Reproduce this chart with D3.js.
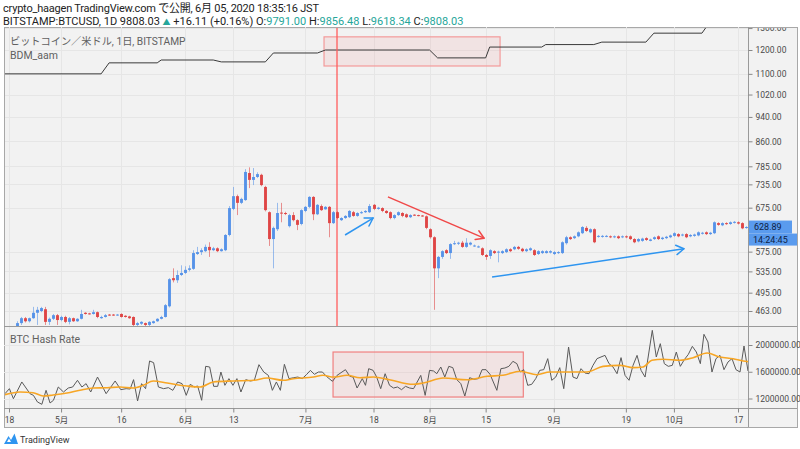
<!DOCTYPE html>
<html><head><meta charset="utf-8">
<script src="https://cdn.jsdelivr.net/npm/d3@7"></script>
<style>
body{margin:0;background:#fff;}
svg{display:block;font-family:Roboto,"Noto Sans CJK JP",sans-serif;}
</style>
</head><body><svg id="c" width="800" height="449"></svg>
<script>
// ---------------- DATA ----------------
const firstCandle = "2013-04-20";
const candleOpen  = [438,443,451,446,451,460,463,466,445,450,456,448,453,445,451,446,450,460,459,458,461,451,453,457,457,456,458,455,454,453,440,442,443,440,443,446,450,453,471,522,518,528,532,538,540,570,574,576,585,578,582,576,578,611,672,704,687,694,766,747,755,761,728,664,602,624,663,662,631,657,645,636,667,677,702,659,679,671,677,638,664,645,650,652,664,655,662,664,664,682,672,674,667,664,650,657,662,659,652,658,657,656,654,624,606,541,564,578,572,591,592,594,585,590,586,584,582,568,566,576,573,572,574,580,580,585,581,576,578,578,570,572,572,573,570,572,572,593,606,604,608,615,627,617,624,607,607,608,608,606,608,606,608,608,602,597,598,604,598,602,608,602,604,606,609,613,610,613,608,609,610,614,617,613,615,638,633,638,636,639,640,638,627];
const candleHigh  = [446,453,453,452,470,470,470,470,452,458,458,455,455,453,452,451,465,461,460,465,462,455,458,458,458,458,459,456,455,454,445,446,444,446,447,451,455,475,522,541,537,547,545,547,578,585,582,590,595,585,584,582,613,679,728,708,700,777,782,780,768,764,731,666,630,687,687,665,660,664,647,671,679,704,704,684,683,679,679,667,666,652,657,669,667,664,667,669,684,684,677,676,669,666,659,666,664,661,659,659,658,657,656,626,608,566,578,580,593,598,596,598,604,596,590,588,584,570,580,578,577,578,582,582,587,587,583,582,584,580,578,578,578,578,576,576,597,609,608,610,619,631,631,626,626,611,611,611,610,610,610,610,610,610,604,604,605,606,603,608,610,607,609,612,617,615,614,615,613,614,619,618,619,618,642,640,640,640,642,643,642,640,631];
const candleLow   = [436,440,444,444,450,440,461,440,440,448,440,446,443,441,445,445,449,457,457,457,451,450,452,455,455,455,452,452,450,438,437,440,438,438,442,445,449,452,469,514,513,526,530,535,538,568,568,574,564,576,574,575,576,608,669,657,684,692,725,733,752,730,666,587,541,620,640,657,628,642,622,633,664,674,645,657,667,670,606,636,648,643,648,650,653,653,660,662,662,669,670,664,660,647,647,655,652,650,650,655,654,653,624,603,465,522,560,570,560,589,589,583,583,588,585,583,566,558,560,570,553,570,572,574,578,579,574,574,576,566,568,570,571,571,568,570,570,590,600,602,606,613,618,615,593,605,605,606,604,604,602,604,604,600,593,595,596,598,597,600,600,600,602,604,607,606,608,604,606,607,608,612,611,611,613,632,631,634,634,637,635,624,625];
const candleClose = [443,451,446,451,460,465,468,445,450,456,448,453,445,451,446,450,458,458,458,461,453,453,456,456,456,457,453,453,451,440,443,445,440,445,446,450,453,473,520,518,528,532,538,541,572,574,578,585,578,582,576,580,611,674,704,687,697,769,747,755,763,733,669,602,627,662,661,660,657,645,634,669,677,702,659,682,669,677,638,664,650,650,655,667,655,662,664,667,679,672,675,667,662,650,657,664,655,652,657,656,655,654,627,606,541,564,576,572,591,593,594,585,594,594,588,586,568,564,578,572,575,576,580,576,585,581,576,580,582,568,576,576,576,576,574,574,595,606,602,608,617,629,620,624,595,609,609,609,606,608,604,608,606,602,595,602,603,600,601,606,602,605,607,610,615,608,612,606,611,612,617,616,613,616,640,634,638,636,640,641,637,626,629];

const lastPrice = 628.89;
const lastTime = "14:24:45";

const priceTicks = [463,495,535,575,675,735,785,860,940,1020,1100,1200,1300];

const bdmDates  = ["2013-04-17","2013-05-11","2013-05-13","2013-05-25","2013-05-26","2013-06-08","2013-06-10","2013-06-21","2013-06-23","2013-07-04","2013-07-06","2013-08-01","2013-08-03","2013-08-15","2013-08-16","2013-08-29","2013-08-30","2013-09-11","2013-09-13","2013-09-24","2013-09-26","2013-10-08","2013-10-10","2013-10-21"];
const bdmValues = [1100,1100,1145,1145,1157,1157,1149,1149,1187,1187,1200,1200,1166,1166,1213,1213,1224,1224,1235,1235,1276,1276,1330,1340];

const hashDays = [-1,0.1,1.1,3.2,5.25,6.1,7.1,8.2,9.25,10.25,11.1,12.3,13.6,14.8,15.9,17.1,18.2,19.25,20.4,22.1,24.25,26.5,27.9,29.25,30.25,31.1,32.1,33.1,34.1,35.1,36.1,37.3,38.6,39.8,40.9,42.1,43.2,44.25,45.25,46.25,47.1,48.1,49.1,50.1,51.1,52.1,52.9,53.9,54.9,55.9,56.9,57.9,59.1,60.25,61.25,62.4,63.6,64.75,65.75,66.75,67.75,68.75,69.9,71.1,72.1,73.2,74.25,75.25,76.25,77.25,78.25,79.25,80.75,81.9,84,85.1,85.9,86.9,88.2,89,89.8,90.9,91.8,92.8,93.9,95,96,97,98,99,100,101,102.8,103.9,105,106,106.8,107.8,108.8,109.8,110.8,111.8,112.8,113.8,115,116.1,117.2,118.1,119.1,120.1,121.8,122.8,123.8,124.8,125.8,126.8,127.6,128.5,129.5,130.5,131.5,132.5,133.5,134.5,135.5,136.5,137.5,138.5,139.7,140.8,141.8,142.8,143.8,144.8,145.8,146.8,147.8,148.8,149.8,150.8,151.8,152.8,153.8,154.8,155.8,156.8,157.8,158.8,160.6,161.6,162.6,163.6,164.6,165.6,166.6,167.6,168.6,169.6,170.6,171.6,172.6,173.5,174.5,175.5,176.5,177.5,178.5,179.5,180.5,181.5,182.5,183.5,184.5];
const hashValues = [1272000,1347000,1197000,1447000,1272000,1247000,1148000,1113000,1322000,1133000,1173000,1372000,1297000,1357000,1372000,1472000,1372000,1422000,1297000,1521000,1272000,1462000,1332000,1347000,1342000,1482000,1163000,1422000,1347000,1761000,1736000,1372000,1347000,1362000,1322000,1447000,1422000,1247000,1412000,1372000,1387000,1173000,1681000,1671000,1382000,1382000,1596000,1397000,1497000,1397000,1497000,1297000,1482000,1462000,1472000,1706000,1596000,1546000,1322000,1447000,1322000,1711000,1497000,1511000,1521000,1497000,1556000,1621000,1561000,1596000,1596000,1531000,1457000,1546000,1631000,1531000,1521000,1357000,1497000,1397000,1646000,1621000,1520000,1347000,1571000,1397000,1357000,1372000,1332000,1382000,1357000,1347000,1546000,1247000,1621000,1611000,1571000,1671000,1521000,1681000,1661000,1482000,1422000,1237000,1511000,1487000,1497000,1631000,1631000,1561000,1322000,1646000,1656000,1681000,1756000,1721000,1596000,1631000,1397000,1412000,1497000,1621000,1631000,1796000,1472000,1521000,1661000,1347000,1970000,1521000,1497000,1646000,1581000,1571000,1696000,1796000,1821000,1845000,1721000,1671000,1571000,1811000,1546000,1472000,1696000,1845000,1621000,1521000,2219000,1821000,2020000,1721000,1681000,1696000,1895000,1681000,1781000,1860000,1980000,1895000,1721000,2160000,2045000,1596000,1796000,1845000,1631000,1746000,1796000,1631000,1596000,1985000,1611000];

const maDays   = [-1,2.75,6,8.5,11,14.5,17.7,21,24.5,27.7,31,33.5,36,39.5,44.4,47.7,51,56,61,64.4,68.4,71,76,78.4,81,84.4,87.6,91,95,100.9,103.4,108.4,114.4,119.4,123.3,127.6,131.8,135,140,144.3,148.3,152.6,155.8,158.3,160.5,163.3,167.5,170.8,174.3,177.5,180.8,183.3,184.5];
const maValues = [1257000,1297000,1287000,1237000,1252000,1282000,1323000,1357000,1361000,1372000,1357000,1397000,1462000,1432000,1387000,1372000,1447000,1462000,1472000,1507000,1472000,1496000,1521000,1547000,1521000,1547000,1511000,1521000,1481000,1412000,1432000,1507000,1481000,1532000,1547000,1607000,1556000,1596000,1596000,1596000,1681000,1696000,1661000,1671000,1771000,1786000,1771000,1810000,1880000,1821000,1795000,1761000,1752000];

const hashTicks = [1200000,1600000,2000000];

const xTickDates  = ["2013-04-18","2013-05-01","2013-05-16","2013-06-01","2013-06-13","2013-07-01","2013-07-18","2013-08-01","2013-08-15","2013-09-01","2013-09-19","2013-10-01","2013-10-17"];
const xTickLabels = ["18","5月","16","6月","13","7月","18","8月","15","9月","19","10月","17"];

// annotations in data terms: [dayFromBase, price]
const annoBlueShort = [[83.9,611],[90.9,650]];
const annoRed       = [[94.6,702],[118.6,604]];
const annoBlueLong  = [[120.6,524],[168.5,581]];
const annoRectPrice = {d0:78.65, d1:122.6, p0:1132, p1:1259};
const annoRectHash  = {d0:80.9, d1:128.4, v0:1222000, v1:1895000};
const annoVLineDate = "2013-07-09";

// ---------------- LAYOUT ----------------
const svg = d3.select("#c");
const parse = d3.timeParse("%Y-%m-%d");
const base = parse("2013-04-18");
const dayDate = d => new Date(base.getTime() + d*86400000);
const L=4, R=797, topY=27, botY=427, axisX=748, priceBot=326, hashBot=408;

const x = d3.scaleTime().domain([base, parse("2013-10-17")]).range([9, 738]);
const y = d3.scaleLog().domain([463,1200]).range([311,50]);
const yh = d3.scaleLinear().domain([1200000,2000000]).range([398.5,345]);

// backgrounds
svg.append("rect").attr("x",L+0.5).attr("y",topY+0.5).attr("width",R-L).attr("height",botY-topY)
  .attr("fill","#f2f2f2").attr("stroke","#a8a8a8").attr("stroke-width",1);

const defs = svg.append("defs");
defs.append("clipPath").attr("id","cp").append("rect").attr("x",L+1).attr("y",topY+1).attr("width",axisX-L-1).attr("height",priceBot-topY-1);
defs.append("clipPath").attr("id","ch").append("rect").attr("x",L+1).attr("y",priceBot+1).attr("width",axisX-L-1).attr("height",hashBot-priceBot-1);
defs.append("clipPath").attr("id","ca").append("rect").attr("x",axisX).attr("y",topY+1).attr("width",R-axisX).attr("height",priceBot-topY-1);

// grid
const grid = svg.append("g").attr("stroke","#e6e6e6").attr("stroke-width",1);
xTickDates.forEach(d=>{
  const xx = Math.round(x(parse(d)))+0.5;
  grid.append("line").attr("x1",xx).attr("x2",xx).attr("y1",topY).attr("y2",hashBot);
});
const gp = grid.append("g").attr("clip-path","url(#cp)");
priceTicks.forEach(v=>{
  const yy = Math.round(y(v))+0.5;
  gp.append("line").attr("x1",L).attr("x2",axisX).attr("y1",yy).attr("y2",yy);
});
hashTicks.forEach(v=>{
  const yy = Math.round(yh(v))+0.5;
  grid.append("line").attr("x1",L).attr("x2",axisX).attr("y1",yy).attr("y2",yy);
});

// separators & axis lines
svg.append("line").attr("x1",L).attr("x2",R).attr("y1",priceBot+0.5).attr("y2",priceBot+0.5).attr("stroke","#9a9a9a");
svg.append("line").attr("x1",L).attr("x2",R).attr("y1",hashBot+0.5).attr("y2",hashBot+0.5).attr("stroke","#9a9a9a");
svg.append("line").attr("x1",axisX+0.5).attr("x2",axisX+0.5).attr("y1",topY).attr("y2",botY).attr("stroke","#9a9a9a");

// annotation rectangles (behind marks)
const gPrice = svg.append("g").attr("clip-path","url(#cp)");
gPrice.append("rect")
  .attr("x",x(dayDate(annoRectPrice.d0))).attr("y",y(annoRectPrice.p1))
  .attr("width",x(dayDate(annoRectPrice.d1))-x(dayDate(annoRectPrice.d0)))
  .attr("height",y(annoRectPrice.p0)-y(annoRectPrice.p1))
  .attr("fill","rgba(242,120,120,0.12)").attr("stroke","#f39a9a").attr("stroke-width",1.2);

// BDM line
gPrice.append("path").datum(bdmDates.map((d,i)=>[parse(d),bdmValues[i]]))
  .attr("fill","none").attr("stroke","#3a3a3a").attr("stroke-width",1)
  .attr("d",d3.line().x(d=>x(d[0])).y(d=>y(d[1])));

// red vertical line
const vx = Math.round(x(parse(annoVLineDate)));
gPrice.append("line").attr("x1",vx).attr("x2",vx)
  .attr("y1",topY).attr("y2",priceBot).attr("stroke","#ff5c5c").attr("stroke-width",1.3);

// candles
const c0 = parse(firstCandle);
const candles = candleOpen.map((o,i)=>({d:d3.timeDay.offset(c0,i),o,h:candleHigh[i],l:candleLow[i],c:candleClose[i]}));
const blue="#4f8ee8", red="#de3d3d";
const cg = gPrice.append("g");
candles.forEach(k=>{
  const cx = Math.round(x(k.d))+0.5;
  const col = k.c>=k.o ? blue : red;
  cg.append("line").attr("x1",cx).attr("x2",cx).attr("y1",y(k.h)).attr("y2",y(k.l))
    .attr("stroke",col).attr("stroke-opacity",0.55).attr("stroke-width",1);
  const yt = y(Math.max(k.o,k.c)), yb = y(Math.min(k.o,k.c));
  cg.append("rect").attr("x",cx-1.5).attr("y",yt).attr("width",3).attr("height",Math.max(1,yb-yt))
    .attr("fill",col).attr("fill-opacity",0.9);
});

// last price dotted line
const lastC = candles[candles.length-1];
gPrice.append("line").attr("x1",x(lastC.d)+2).attr("x2",axisX).attr("y1",y(lastPrice)).attr("y2",y(lastPrice))
  .attr("stroke",blue).attr("stroke-dasharray","1,2");

// arrows
function arrow(g, pts, color){
  const p0=[x(dayDate(pts[0][0])),y(pts[0][1])], p1=[x(dayDate(pts[1][0])),y(pts[1][1])];
  g.append("line").attr("x1",p0[0]).attr("y1",p0[1]).attr("x2",p1[0]).attr("y2",p1[1])
    .attr("stroke",color).attr("stroke-width",1.5);
  const ang = Math.atan2(p0[1]-p1[1], p0[0]-p1[0]);
  const len = 9, spread = 0.55;
  [ang-spread, ang+spread].forEach(a=>{
    g.append("line").attr("x1",p1[0]).attr("y1",p1[1])
      .attr("x2",p1[0]+len*Math.cos(a)).attr("y2",p1[1]+len*Math.sin(a))
      .attr("stroke",color).attr("stroke-width",1.5).attr("stroke-linecap","round");
  });
}
arrow(gPrice, annoBlueShort, "#2e95f0");
arrow(gPrice, annoRed, "#f04848");
arrow(gPrice, annoBlueLong, "#2e95f0");

// ---------- hash pane ----------
const gHash = svg.append("g").attr("clip-path","url(#ch)");
gHash.append("rect")
  .attr("x",x(dayDate(annoRectHash.d0))).attr("y",yh(annoRectHash.v1))
  .attr("width",x(dayDate(annoRectHash.d1))-x(dayDate(annoRectHash.d0)))
  .attr("height",yh(annoRectHash.v0)-yh(annoRectHash.v1))
  .attr("fill","rgba(242,120,120,0.12)").attr("stroke","#f08080").attr("stroke-width",1.2);
gHash.append("path").datum(hashDays.map((d,i)=>[dayDate(d),hashValues[i]]))
  .attr("fill","none").attr("stroke","#5a5a5a").attr("stroke-width",1)
  .attr("d",d3.line().x(d=>x(d[0])).y(d=>yh(d[1])));
gHash.append("path").datum(maDays.map((d,i)=>[dayDate(d),maValues[i]]))
  .attr("fill","none").attr("stroke","#f7a625").attr("stroke-width",1.6)
  .attr("d",d3.line().curve(d3.curveMonotoneX).x(d=>x(d[0])).y(d=>yh(d[1])));

// ---------- axes ----------
const axPWrap = svg.append("g").attr("clip-path","url(#ca)");
const axP = axPWrap.append("g").attr("transform",`translate(${axisX+0.5},0)`)
  .call(d3.axisRight(y).tickValues(priceTicks).tickFormat(d=>d.toFixed(2)).tickSize(4).tickPadding(3));
const axH = svg.append("g").attr("transform",`translate(${axisX+0.5},0)`)
  .call(d3.axisRight(yh).tickValues(hashTicks).tickFormat(d=>d.toFixed(2)).tickSize(4).tickPadding(3));
const axX = svg.append("g").attr("transform",`translate(0,${hashBot+0.5})`)
  .call(d3.axisBottom(x).tickValues(xTickDates.map(parse)).tickFormat((d,i)=>xTickLabels[i]).tickSize(4).tickPadding(4));
[axP,axH,axX].forEach(a=>{
  a.select(".domain").remove();
  a.selectAll(".tick line").attr("stroke","#888");
  a.selectAll("text").attr("fill","#4a4a4a").style("font-size","8.5px").style("font-family","Roboto,'Noto Sans CJK JP',sans-serif");
});

// last price labels
const lpY = y(lastPrice);
svg.append("rect").attr("x",axisX+1).attr("y",lpY-6.5).attr("width",43).attr("height",13).attr("fill","#5a9bee");
svg.append("text").attr("x",axisX+6).attr("y",lpY).attr("dy","0.35em").text(lastPrice.toFixed(2))
  .attr("fill","#0e1e45").style("font-size","9px");
svg.append("rect").attr("x",axisX+1).attr("y",lpY+6.5).attr("width",48).attr("height",12).attr("fill","#5a9bee");
svg.append("text").attr("x",axisX+5).attr("y",lpY+12.5).attr("dy","0.35em").text(lastTime)
  .attr("fill","#0e1e45").style("font-size","9px");

// ---------- texts ----------
svg.append("text").attr("x",3).attr("y",11.5).text("crypto_haagen TradingView.com で公開, 6月 05, 2020 18:35:16 JST")
  .attr("fill","#222").style("font-size","11px").attr("textLength",316).attr("lengthAdjust","spacing");
const t2 = svg.append("text").attr("x",3).attr("y",24.5).attr("fill","#222").style("font-size","11px");
const teal="#26a69a";
t2.append("tspan").text("BITSTAMP:BTCUSD, 1D 9808.03 ");
t2.append("tspan").text("▲").attr("fill",teal).style("font-size","8px");
t2.append("tspan").text(" +16.11 (+0.16%) O:");
t2.append("tspan").text("9791.00").attr("fill",teal);
t2.append("tspan").text(" H:");
t2.append("tspan").text("9856.48").attr("fill",teal);
t2.append("tspan").text(" L:");
t2.append("tspan").text("9618.34").attr("fill",teal);
t2.append("tspan").text(" C:");
t2.append("tspan").text("9808.03").attr("fill",teal);

svg.append("text").attr("x",10).attr("y",45).text("ビットコイン／米ドル, 1日, BITSTAMP").attr("fill","#606060").style("font-size","10.2px");
svg.append("text").attr("x",10).attr("y",59).text("BDM_aam").attr("fill","#606060").style("font-size","10.5px");
svg.append("text").attr("x",10).attr("y",343).text("BTC Hash Rate").attr("fill","#606060").style("font-size","10.5px");

// TradingView logo
const lg = svg.append("g");
lg.append("path").attr("d","M4,444 L8.5,436 L11,440 L14.5,433.5 L18,444 Z").attr("fill","#2e95f0");
lg.append("path").attr("d","M7,442 L9,438.5 L11,442 Z").attr("fill","#fff");
svg.append("text").attr("x",20).attr("y",443).text("TradingView").attr("fill","#333").style("font-size","9px");
</script>
</body></html>
